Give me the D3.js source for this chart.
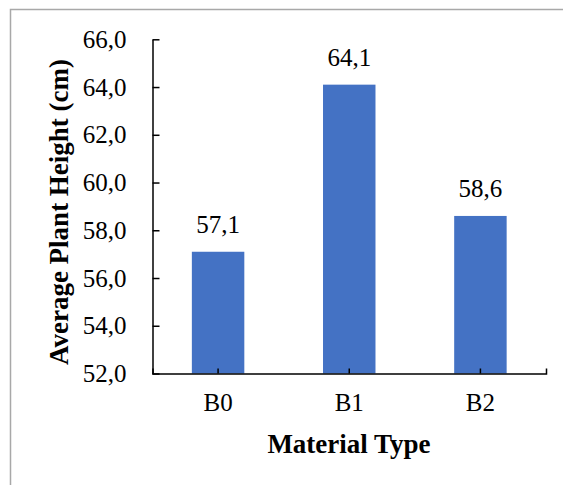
<!DOCTYPE html>
<html>
<head>
<meta charset="utf-8">
<script src="https://cdn.jsdelivr.net/npm/d3@7"></script>
<style>
  html, body { margin: 0; padding: 0; background: #fff; }
  svg { display: block; }
</style>
</head>
<body>
<svg id="chart" width="563" height="485"></svg>
<script>
const categories = ["B0", "B1", "B2"];
const values = [57.1, 64.1, 58.6];
const yTicks = [52, 54, 56, 58, 60, 62, 64, 66];
const yTitle = "Average Plant Height (cm)";
const xTitle = "Material Type";

const FONT = "'Liberation Serif', 'Times New Roman', serif";
const svg = d3.select("#chart");
const fmt = v => d3.format(".1f")(v).replace(".", ",");

// outer frame
svg.append("rect")
  .attr("x", 10.5).attr("y", 9.5)
  .attr("width", 700).attr("height", 700)
  .attr("fill", "none").attr("stroke", "#a8a8a8").attr("stroke-width", 1.5);

const x = d3.scaleBand().domain(categories).range([152.5, 546])
  .paddingInner(0.6).paddingOuter(0.3);
const y = d3.scaleLinear().domain([52, 66]).range([373.5, 39.3]);

// bars
svg.append("g").selectAll("rect").data(categories).join("rect")
  .attr("x", d => x(d))
  .attr("width", x.bandwidth())
  .attr("y", (d, i) => y(values[i]))
  .attr("height", (d, i) => y(52) - y(values[i]))
  .attr("fill", "#4472C4");

// value labels
svg.append("g").selectAll("text").data(categories).join("text")
  .attr("x", d => x(d) + x.bandwidth() / 2)
  .attr("y", (d, i) => y(values[i]) - 19)
  .attr("text-anchor", "middle")
  .style("font-family", FONT)
  .style("font-size", "25px")
  .attr("fill", "#000")
  .text((d, i) => fmt(values[i]));

// y axis
const yAxis = svg.append("g").attr("transform", "translate(152.5,0)")
  .call(d3.axisLeft(y).tickValues(yTicks).tickSize(-7).tickSizeOuter(0).tickPadding(26).tickFormat(fmt));
yAxis.selectAll("text").attr("fill", "#000")
  .style("font-family", FONT).style("font-size", "25px");
yAxis.selectAll("line, path").attr("stroke", "#000").attr("stroke-width", 1.5);

// x axis
const xAxis = svg.append("g").attr("transform", "translate(0,373.5)")
  .call(d3.axisBottom(x).tickSize(-5).tickSizeOuter(-5).tickPadding(20));
xAxis.selectAll("text").attr("fill", "#000")
  .style("font-family", FONT).style("font-size", "25px");
xAxis.selectAll("line, path").attr("stroke", "#000").attr("stroke-width", 1.5);

// axis titles
svg.append("text")
  .attr("transform", "translate(68,212) rotate(-90)")
  .attr("text-anchor", "middle")
  .style("font-family", FONT).style("font-size", "27px").style("font-weight", "bold")
  .text(yTitle);

svg.append("text")
  .attr("x", 349).attr("y", 453)
  .attr("text-anchor", "middle")
  .style("font-family", FONT).style("font-size", "27px").style("font-weight", "bold")
  .text(xTitle);
</script>
</body>
</html>
